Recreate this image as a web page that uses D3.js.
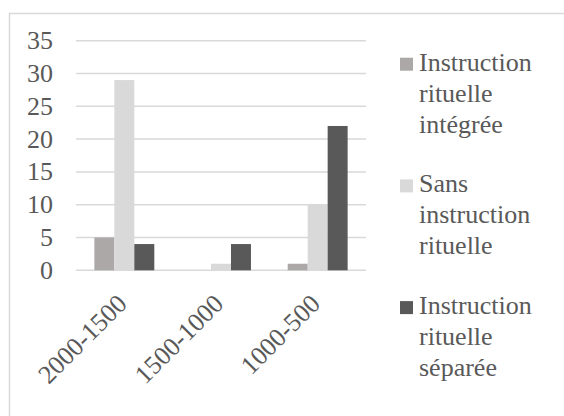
<!DOCTYPE html>
<html>
<head>
<meta charset="utf-8">
<script src="https://cdn.jsdelivr.net/npm/d3@7"></script>
<style>
  html, body { margin: 0; padding: 0; background: #fff; }
  svg { display: block; }
</style>
</head>
<body>
<script>
const categories = ["2000-1500", "1500-1000", "1000-500"];
const seriesNames = [
  ["Instruction", "rituelle", "intégrée"],
  ["Sans", "instruction", "rituelle"],
  ["Instruction", "rituelle", "séparée"]
];
const integree = [5, 0, 1];
const sans = [29, 1, 10];
const separee = [4, 4, 22];
const yTicks = [0, 5, 10, 15, 20, 25, 30, 35];
const colors = ["#ABA8A7", "#D9D9D9", "#595959"];

(function () {
const series = [integree, sans, separee];
const W = 564, H = 416;
const FONT = "'Liberation Serif', 'DejaVu Serif', serif";
const svg = d3.select("body").append("svg").attr("width", W).attr("height", H)
  .style("font-family", FONT);

const probe = svg.append("text").style("font-family", FONT).attr("font-size", 26).text("Instruction");
const w = probe.node().getComputedTextLength();
probe.remove();
const fs = w > 0 ? Math.min(26, 26 * 114 / w) : 26;

svg.append("rect").attr("x", 9.5).attr("y", 13.5).attr("width", W + 20).attr("height", H + 20)
  .attr("fill", "none").attr("stroke", "#D9D9D9").attr("stroke-width", 1.5);

const pLeft = 76, pRight = 366, pTop = 40.7, pBottom = 270.3;
const x = d3.scaleBand().domain(categories).range([pLeft, pRight]).paddingInner(0).paddingOuter(0);
const y = d3.scaleLinear().domain([0, 35]).range([pBottom, pTop]);
const groupW = x.bandwidth() * 0.62;
const xs = d3.scaleBand().domain(d3.range(series.length)).range([0, groupW]);

svg.append("g").selectAll("line").data(yTicks).join("line")
  .attr("x1", pLeft).attr("x2", pRight)
  .attr("y1", d => y(d)).attr("y2", d => y(d))
  .attr("stroke", "#D9D9D9").attr("stroke-width", 1.5);

svg.append("g").selectAll("text").data(yTicks).join("text")
  .style("font-family", FONT).attr("fill", "#595959")
  .attr("x", 53).attr("y", d => y(d)).attr("dy", "0.33em")
  .attr("text-anchor", "end").attr("font-size", fs)
  .text(d => d);

series.forEach((vals, si) => {
  svg.append("g").selectAll("rect").data(vals).join("rect")
    .attr("x", (d, i) => x(categories[i]) + (x.bandwidth() - groupW) / 2 + xs(si))
    .attr("width", xs.bandwidth())
    .attr("y", d => y(d))
    .attr("height", d => pBottom - y(d))
    .attr("fill", colors[si]);
});

svg.append("g").selectAll("text").data(categories).join("text")
  .style("font-family", FONT).attr("fill", "#595959")
  .attr("transform", d => `translate(${x(d) + x.bandwidth() / 2 + 4},${pBottom + 35}) rotate(-45)`)
  .attr("text-anchor", "end").attr("font-size", fs)
  .text(d => d);

const lg = svg.append("g");
seriesNames.forEach((lines, i) => {
  const by = 70.7 + i * 121.7;
  lg.append("rect").attr("x", 400).attr("y", by - 13).attr("width", 13).attr("height", 13)
    .attr("fill", colors[i]);
  const t = lg.append("text").style("font-family", FONT).attr("fill", "#595959")
    .attr("x", 419).attr("y", by).attr("font-size", fs);
  lines.forEach((ln, j) => {
    t.append("tspan").attr("x", 419).attr("y", by + j * 31).text(ln);
  });
});
})();
</script>
</body>
</html>
